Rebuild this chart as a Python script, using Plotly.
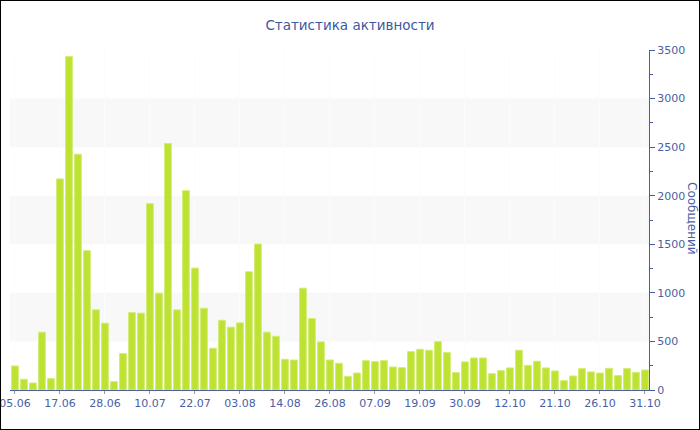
import plotly.graph_objects as go

title_text = "Статистика активности"
y_title = "Сообщений"

values = [247, 110, 72, 595, 117, 2173, 3434, 2427, 1434, 825,
          688, 86, 375, 798, 791, 1918, 997, 2537, 825, 2052,
          1255, 842, 430, 718, 646, 691, 1217, 1502, 595, 553,
          316, 309, 1048, 736, 495, 309, 275, 141, 175, 302,
          292, 302, 237, 230, 395, 419, 409, 498, 385, 179,
          289, 330, 330, 168, 199, 227, 409, 254, 296, 227,
          196, 96, 144, 220, 186, 175, 223, 148, 220, 182, 206]

tick_labels = ["05.06", "17.06", "28.06", "10.07", "22.07", "03.08", "14.08",
               "26.08", "07.09", "19.09", "30.09", "12.10", "21.10", "26.10", "31.10"]
tick_step = 5

x_idx = list(range(len(values)))
tick_vals = [i * tick_step for i in range(len(tick_labels))]

W, H = 700, 430
ML, MR, MT, MB = 10, 51, 50, 40
PW, PH = W - ML - MR, H - MT - MB

blue = "#4a5fa3"
bar_color = "#bde232"

fig = go.Figure(go.Bar(
    x=x_idx, y=values,
    marker=dict(color=bar_color, line=dict(color="#d2ec74", width=1)),
    hoverinfo="y",
))

shapes = []
for lo, hi in [(500, 1000), (1500, 2000), (2500, 3000)]:
    shapes.append(dict(type="rect", xref="paper", yref="y", x0=0, x1=1, y0=lo, y1=hi,
                       fillcolor="#f8f8f8", line=dict(width=0), layer="below"))
# outer frame
shapes.append(dict(type="rect", xref="paper", yref="paper",
                   x0=-ML / PW, x1=1 + MR / PW, y0=-MB / PH, y1=1 + MT / PH,
                   line=dict(color="black", width=2), fillcolor="rgba(0,0,0,0)", layer="above"))

fig.update_layout(
    width=W, height=H,
    margin=dict(l=ML, r=MR, t=MT, b=MB, autoexpand=False),
    paper_bgcolor="white", plot_bgcolor="white",
    bargap=0.25,
    showlegend=False,
    font=dict(family="DejaVu Sans", size=11, color=blue),
    title=dict(text=title_text, x=0.5, xanchor="center", y=1 - 25 / H, yanchor="middle",
               font=dict(family="DejaVu Sans", size=13.5, color="#3e57a0")),
    shapes=shapes,
    annotations=[dict(text=y_title, textangle=90, xref="paper", yref="paper",
                      x=(692 - ML) / PW, y=(390 - 218) / PH, xanchor="center", yanchor="middle",
                      showarrow=False, font=dict(family="DejaVu Sans", size=12, color=blue))],
    xaxis=dict(range=[-0.55, 70.45], tickmode="array", tickvals=tick_vals, ticktext=tick_labels,
               showline=True, linecolor=blue, linewidth=1, ticks="outside", ticklen=3,
               tickcolor="#999999", showgrid=True, gridcolor="#fcfcfc", gridwidth=1,
               zeroline=False, tickfont=dict(size=11, color=blue), ticklabeloverflow="allow",
               automargin=False),
    yaxis=dict(range=[0, 3500], side="right", tickmode="linear", dtick=500, tick0=0,
               showline=True, linecolor=blue, linewidth=1, ticks="outside", ticklen=5,
               tickcolor=blue, showgrid=False, zeroline=False,
               minor=dict(dtick=250, ticks="outside", ticklen=3, tickcolor=blue),
               tickfont=dict(size=11, color=blue), ticklabeloverflow="allow",
               automargin=False),
)

fig.write_html("out.html", config={"displayModeBar": False},
               post_script="document.body.style.margin='0';document.body.style.overflow='hidden';")
